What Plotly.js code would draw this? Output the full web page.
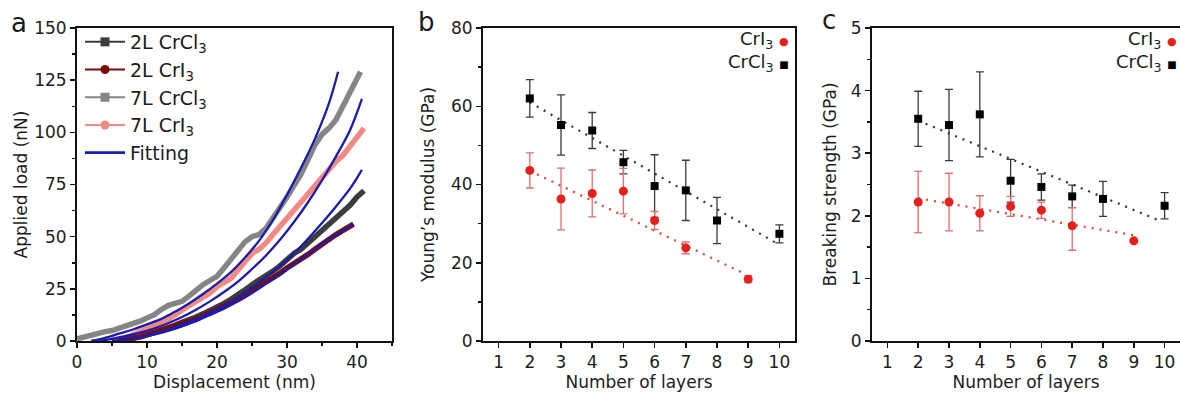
<!DOCTYPE html>
<html>
<head>
<meta charset="utf-8">
<script src="https://cdn.plot.ly/plotly-3.0.1.min.js"></script>
<style>html,body{margin:0;padding:0;background:#fff;}#chart{width:1180px;height:394px;}</style>
</head>
<body>
<div id="chart"></div>
<script>
// ---------- Panel a: load vs displacement ----------
const cl7_x = [0,1,2,3,4,5,6,7,8,9,10,11,12,13,14,15,16,17,18,19,20,21,22,23,24,25,26,27,28,29,30,31,32,33,34,35,36,37,38,39,40,40.5];
const cl7_y = [1,2,3,3.5,4.5,5,6,7,8.5,9.5,11,12.5,15,17,18,19,21.5,24.5,27,29,31,35,39,43,47.5,50,51,54,58.5,64,69,74,80,87,94,99,102,106,113,120,127,129];
const i7_x = [5,6,7,8,9,10,11,12,13,14,15,16,17,18,19,20,21,22,23,24,25,26,27,28,29,30,31,32,33,34,35,36,37,38,39,40,41];
const i7_y = [0.5,1,1.5,3,4.5,6,7,8.5,10.5,12.5,15,17,19,21,23,26,28,30,34,38,42,44,47,51,55,59,62,66,70,74,79,83,86,89,93,97,102];
const cl2_x = [6,7,8,9,10,11,12,13,14,15,16,17,18,19,20,21,22,23,24,25,26,27,28,29,30,31,32,33,34,35,36,37,38,39,40,41];
const cl2_y = [0,0.5,1,2,3,4,5,6.5,7.5,9,10,11.5,13,14.5,16.5,18,20,22,24.5,27,29,31,33.5,36,39,42,44,47,50,53,56,59,62,65,69,72];
const i2_x = [6,7,8,9,10,11,12,13,14,15,16,17,18,19,20,21,22,23,24,25,26,27,28,29,30,31,32,33,34,35,36,37,38,39,39.5];
const i2_y = [0,0.5,1,2,3,4,5,6,7,8,9,10.5,12,13.5,15,16.5,18,20,22,24,26,28,30,32.5,35,37,39,41.5,44,46.5,49,51,53,55,56];
// fitting curves
const fit1_x = [2,4,6,8,10,12,14,16,18,20,22,24,26,28,30,32,34,36,37.3];
const fit1_y = [0,1.5,3.5,5.5,8,10.5,14,18,22.5,27.5,33,40,48,58,70,83,97,114,129];
const fit2_x = [3,5,7,9,11,13,15,17,19,21,23,25,27,29,31,33,35,37,39,40.7];
const fit2_y = [0,1,2.5,4,6,8.5,11.5,15,19,23.5,28.5,34.5,41,48.5,57,66.5,77,88.5,101,116];
const fit3_x = [5,7,9,11,13,15,17,19,21,23,25,27,29,31,33,35,37,39,40.7];
const fit3_y = [0,0.8,2,3.5,5.5,8,10.5,13.5,17,21,25.5,30.5,36,42,49,56.5,64.5,73,82];
const fit4_x = [5,7,9,11,13,15,17,19,21,23,25,27,29,31,33,35,37,39.5];
const fit4_y = [0,0.7,1.7,3,4.8,7,9.5,12.5,15.5,19,23,27.5,32,37,41.5,46.5,51,56];

// ---------- Panel b: Young's modulus ----------
const layersCl = [2,3,4,5,6,7,8,10];
const youngCl = [62.0,55.2,53.8,45.7,39.6,38.5,30.8,27.4];
const youngClErr = [4.8,7.7,4.6,3.0,8.0,7.7,5.9,2.3];
const layersI = [2,3,4,5,6,7,9];
const youngI = [43.6,36.3,37.7,38.3,30.8,23.8,15.8];
const youngIErr = [4.5,7.9,6.0,5.8,2.3,1.5,0.9];
const trendYoungCl_x = [2,10], trendYoungCl_y = [61,24.6];
const trendYoungI_x = [2,8.8], trendYoungI_y = [43.5,17.5];

// ---------- Panel c: Breaking strength ----------
const strengthCl = [3.55,3.45,3.62,2.56,2.46,2.31,2.27,2.16];
const strengthClErr = [0.44,0.57,0.68,0.34,0.21,0.18,0.28,0.21];
const strengthI = [2.22,2.22,2.04,2.15,2.09,1.84,1.60];
const strengthIErrPlus = [0.49,0.46,0.28,0.16,0.13,0.29,0.03];
const strengthIErrMinus = [0.49,0.46,0.28,0.16,0.13,0.39,0.03];
const trendStrCl_x = [2,9.9], trendStrCl_y = [3.52,1.91];
const trendStrI_x = [2,9.0], trendStrI_y = [2.28,1.69];

const FONT = 'DejaVu Sans, sans-serif';
const TXT = '#1c1c1c';
const RED = '#e3201b';
const REDERR = '#e0706c';
const BLUE = '#1c1caa';

const traces = [];
function dataCurve(x, y, color) {
  traces.push({x, y, type:'scatter', mode:'lines', line:{color, width:5.5}, showlegend:false, xaxis:'x', yaxis:'y', hoverinfo:'skip'});
}
dataCurve(cl7_x, cl7_y, '#858585');
dataCurve(i7_x, i7_y, '#f28a84');
dataCurve(cl2_x, cl2_y, '#3c3c3c');
dataCurve(i2_x, i2_y, '#7a0c0c');
[[fit1_x,fit1_y],[fit2_x,fit2_y],[fit3_x,fit3_y],[fit4_x,fit4_y]].forEach(function(f){
  traces.push({x:f[0], y:f[1], type:'scatter', mode:'lines', line:{color:BLUE, width:2.3, shape:'spline'}, showlegend:false, xaxis:'x', yaxis:'y'});
});
// legend entries for panel a
function legendEntry(name, color, symbol) {
  const t = {x:[null], y:[null], type:'scatter', name, xaxis:'x', yaxis:'y', showlegend:true,
    mode: symbol ? 'lines+markers' : 'lines', line:{color, width: symbol ? 2 : 2.8}};
  if (symbol) t.marker = {color, symbol, size:9};
  traces.push(t);
}
legendEntry('2L CrCl<sub>3</sub>', '#3c3c3c', 'square');
legendEntry('2L CrI<sub>3</sub>', '#7a0c0c', 'circle');
legendEntry('7L CrCl<sub>3</sub>', '#858585', 'square');
legendEntry('7L CrI<sub>3</sub>', '#f28a84', 'circle');
legendEntry('Fitting', BLUE, null);

// panel b
traces.push({x:trendYoungCl_x, y:trendYoungCl_y, type:'scatter', mode:'lines', line:{color:'#333', width:2.2, dash:'2px,6px'}, showlegend:false, xaxis:'x2', yaxis:'y2'});
traces.push({x:trendYoungI_x, y:trendYoungI_y, type:'scatter', mode:'lines', line:{color:'#d9473f', width:2.2, dash:'2px,6px'}, showlegend:false, xaxis:'x2', yaxis:'y2'});
traces.push({x:layersCl, y:youngCl, type:'scatter', mode:'markers', marker:{symbol:'square', size:8, color:'#000'},
  error_y:{type:'data', array:youngClErr, color:'#3a3a3a', thickness:1.3, width:4}, showlegend:false, xaxis:'x2', yaxis:'y2'});
traces.push({x:layersI, y:youngI, type:'scatter', mode:'markers', marker:{symbol:'circle', size:9, color:RED},
  error_y:{type:'data', array:youngIErr, color:REDERR, thickness:1.3, width:4}, showlegend:false, xaxis:'x2', yaxis:'y2'});

// panel c
traces.push({x:trendStrCl_x, y:trendStrCl_y, type:'scatter', mode:'lines', line:{color:'#333', width:2.2, dash:'2px,6px'}, showlegend:false, xaxis:'x3', yaxis:'y3'});
traces.push({x:trendStrI_x, y:trendStrI_y, type:'scatter', mode:'lines', line:{color:'#d9473f', width:2.2, dash:'2px,6px'}, showlegend:false, xaxis:'x3', yaxis:'y3'});
traces.push({x:layersCl, y:strengthCl, type:'scatter', mode:'markers', marker:{symbol:'square', size:8, color:'#000'},
  error_y:{type:'data', array:strengthClErr, color:'#3a3a3a', thickness:1.3, width:4}, showlegend:false, xaxis:'x3', yaxis:'y3'});
traces.push({x:layersI, y:strengthI, type:'scatter', mode:'markers', marker:{symbol:'circle', size:9, color:RED},
  error_y:{type:'data', array:strengthIErrPlus, arrayminus:strengthIErrMinus, symmetric:false, color:REDERR, thickness:1.3, width:4}, showlegend:false, xaxis:'x3', yaxis:'y3'});

const W = 1180, H = 394;
const yDom = [53/H, 366/H];
function axisBase(extra) {
  return Object.assign({
    showline:true, linewidth:2, linecolor:'#111', mirror:true, showgrid:false, zeroline:false,
    ticks:'outside', ticklen:5, tickwidth:1.5, tickcolor:'#111',
    tickfont:{family:FONT, size:17, color:TXT}, fixedrange:true
  }, extra);
}
const titleFont = {family:FONT, size:17, color:TXT};
const minorT = function(d){ return {dtick:d, ticks:'outside', ticklen:3, tickwidth:1.5, tickcolor:'#111'}; };

function ann(text, xpx, ypx, size, xanchor) {
  return {text, x:xpx/W, y:(H-ypx)/H, xref:'paper', yref:'paper', xanchor:xanchor||'center', yanchor:'middle', showarrow:false, font:{family:FONT, size, color:TXT}};
}

const layout = {
  width:W, height:H, margin:{l:0,r:0,t:0,b:0}, paper_bgcolor:'#fff', plot_bgcolor:'#fff',
  font:{family:FONT, color:TXT},
  showlegend:true,
  legend:{x:80/W, y:(H-23)/H, xanchor:'left', yanchor:'top', bgcolor:'rgba(0,0,0,0)', font:{family:FONT, size:19, color:TXT}, tracegroupgap:0, itemwidth:40},
  xaxis: axisBase({domain:[77/W, 392/W], range:[0,45], tick0:0, dtick:10, anchor:'y', minor:minorT(5),
    title:{text:'Displacement (nm)', font:titleFont, standoff:3}}),
  yaxis: axisBase({domain:yDom, range:[0,150], tick0:0, dtick:25, anchor:'x', minor:minorT(12.5),
    title:{text:'Applied load (nN)', font:titleFont, standoff:2}}),
  xaxis2: axisBase({domain:[483/W, 795/W], range:[0.5,10.5], tick0:1, dtick:1, anchor:'y2',
    title:{text:'Number of layers', font:titleFont, standoff:3}}),
  yaxis2: axisBase({domain:yDom, range:[0,80], tick0:0, dtick:20, anchor:'x2', minor:minorT(10),
    title:{text:'Young\u2019s modulus (GPa)', font:titleFont, standoff:12}}),
  xaxis3: axisBase({domain:[872/W, 1], range:[0.5,10.5], tick0:1, dtick:1, anchor:'y3',
    title:{text:'Number of layers', font:titleFont, standoff:3}}),
  yaxis3: axisBase({domain:yDom, range:[0,5], tick0:0, dtick:1, anchor:'x3', minor:minorT(0.5),
    title:{text:'Breaking strength (GPa)', font:titleFont, standoff:10}}),
  annotations:[
    ann('a', 19, 23, 26),
    ann('b', 426, 22, 26),
    ann('c', 829, 20, 26),
    ann('CrI<sub>3</sub> <span style="color:'+RED+';font-size:11px">\u25CF</span>', 791, 40, 18, 'right'),
    ann('CrCl<sub>3</sub> <span style="color:#000;font-size:10px">\u25A0</span>', 791, 63, 18, 'right'),
    ann('CrI<sub>3</sub> <span style="color:'+RED+';font-size:11px">\u25CF</span>', 1179, 40, 18, 'right'),
    ann('CrCl<sub>3</sub> <span style="color:#000;font-size:10px">\u25A0</span>', 1179, 63, 18, 'right')
  ]
};

Plotly.newPlot('chart', traces, layout, {displayModeBar:false, staticPlot:true});
</script>
</body>
</html>
